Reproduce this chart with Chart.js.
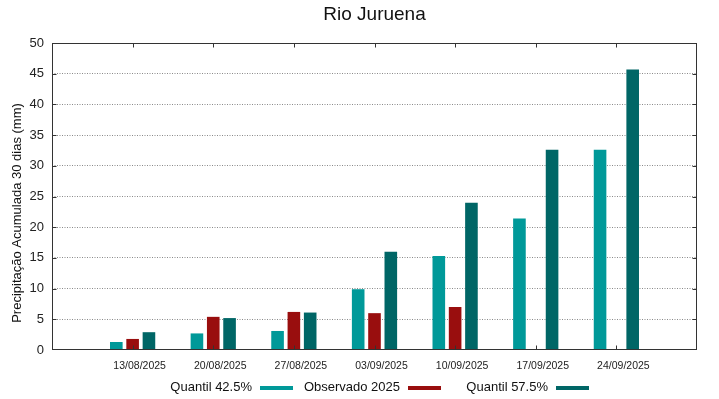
<!DOCTYPE html>
<html>
<head>
<meta charset="utf-8">
<script src="https://cdn.jsdelivr.net/npm/chart.js@4/dist/chart.umd.min.js"></script>
<style>
html,body{margin:0;padding:0;background:#fff;}
canvas{display:block;}
</style>
</head>
<body>
<canvas id="c" width="719" height="399"></canvas>
<script>
// ---- data ----
const chartTitle = 'Rio Juruena';
const yAxisTitle = 'Precipitação Acumulada 30 dias (mm)';
const categories = ['13/08/2025', '20/08/2025', '27/08/2025', '03/09/2025', '10/09/2025', '17/09/2025', '24/09/2025'];
const seriesNames = ['Quantil 42.5%', 'Observado 2025', 'Quantil 57.5%'];
const quantil425 = [1.3, 2.7, 3.1, 9.9, 15.3, 21.4, 32.6];
const observado2025 = [1.8, 5.4, 6.2, 6.0, 7.0, null, null];
const quantil575 = [2.9, 5.2, 6.1, 16.0, 24.0, 32.6, 45.7];
const yMin = 0, yMax = 50, yStep = 5;

const colors = ['#009999', '#990e0e', '#006666'];
const FONT = '"Liberation Sans", Arial, sans-serif';

// pad with an empty slot on each side (axis range spans one extra slot each way)
const labels = [''].concat(categories, ['']);
const pad = arr => [null].concat(arr, [null]);

const framePlugin = {
  id: 'frame',
  afterDatasetsDraw(chart) {
    const {ctx, chartArea: {left, right, top, bottom}, scales: {x, y}} = chart;
    ctx.save();
    ctx.strokeStyle = '#333';
    ctx.lineWidth = 1;
    const L = Math.round(left) + 0.5, R = Math.round(right) - 0.5;
    const T = Math.round(top) + 0.5, B = Math.round(bottom) - 0.5;
    ctx.strokeRect(L, T, R - L, B - T);
    ctx.beginPath();
    for (let v = yMin + yStep; v < yMax; v += yStep) {
      const yp = Math.round(y.getPixelForValue(v)) + 0.5;
      ctx.moveTo(L, yp); ctx.lineTo(L + 4, yp);
      ctx.moveTo(R, yp); ctx.lineTo(R - 4, yp);
    }
    for (let i = 1; i <= categories.length; i++) {
      const xp = Math.round(x.getPixelForValue(i)) + 0.5;
      ctx.moveTo(xp, B); ctx.lineTo(xp, B - 4);
      ctx.moveTo(xp, T); ctx.lineTo(xp, T + 4);
    }
    ctx.stroke();
    ctx.restore();
  },
  afterDraw(chart) {
    const {ctx, chartArea: {left, right}} = chart;
    ctx.save();
    ctx.fillStyle = '#111';
    // title
    ctx.font = '19px ' + FONT;
    ctx.textAlign = 'center';
    ctx.textBaseline = 'middle';
    ctx.fillText(chartTitle, (left + right) / 2, 15);
    // y title
    ctx.save();
    ctx.translate(17, 213);
    ctx.rotate(-Math.PI / 2);
    ctx.font = '13px ' + FONT;
    ctx.textAlign = 'center';
    ctx.textBaseline = 'middle';
    ctx.fillText(yAxisTitle, 0, 0);
    ctx.restore();
    // legend (text, then sample)
    ctx.font = '13px ' + FONT;
    ctx.textAlign = 'right';
    ctx.textBaseline = 'middle';
    chart.data.datasets.forEach((ds, i) => {
      const xr = 252 + i * 148;
      ctx.fillStyle = '#111';
      ctx.fillText(ds.label, xr, 387);
      ctx.fillStyle = ds.backgroundColor;
      ctx.fillRect(xr + 8, 386, 33, 4);
    });
    ctx.restore();
  }
};

new Chart(document.getElementById('c'), {
  type: 'bar',
  data: {
    labels: labels,
    datasets: [
      {label: seriesNames[0], data: pad(quantil425), backgroundColor: colors[0]},
      {label: seriesNames[1], data: pad(observado2025), backgroundColor: colors[1]},
      {label: seriesNames[2], data: pad(quantil575), backgroundColor: colors[2]}
    ]
  },
  options: {
    responsive: false,
    animation: false,
    events: [],
    categoryPercentage: 0.607,
    barPercentage: 0.773,
    layout: {padding: {left: 0, right: 22, top: 43, bottom: 0}},
    plugins: {legend: {display: false}, title: {display: false}, tooltip: {enabled: false}},
    scales: {
      x: {
        type: 'category',
        offset: false,
        grid: {display: false, drawTicks: false},
        border: {display: false},
        ticks: {
          autoSkip: false, maxRotation: 0, minRotation: 0,
          labelOffset: 7, padding: 10,
          color: '#222', font: {family: FONT, size: 10.5}
        },
        afterFit(s) { s.height = 49; }
      },
      y: {
        min: yMin, max: yMax,
        grid: {
          drawTicks: false,
          color: ctx => (ctx.tick && (ctx.tick.value === yMin || ctx.tick.value === yMax)) ? 'rgba(0,0,0,0)' : '#8a8a8a',
          lineWidth: 1
        },
        border: {display: false, dash: [1, 1.5]},
        ticks: {stepSize: yStep, padding: 8, color: '#222', font: {family: FONT, size: 13}},
        afterFit(s) { s.width = 52; }
      }
    }
  },
  plugins: [framePlugin]
});
</script>
</body>
</html>
